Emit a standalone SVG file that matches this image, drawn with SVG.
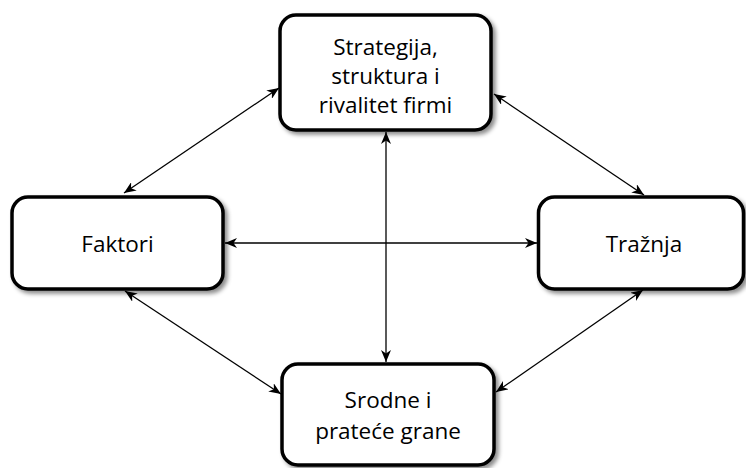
<svg xmlns="http://www.w3.org/2000/svg" width="746" height="468" viewBox="0 0 746 468">
<style>
.box{fill:#fff;stroke:#000;stroke-width:3.5;filter:url(#sh)}
.t{font-family:"Open Sans","Liberation Sans",sans-serif;font-size:22.5px;fill:#000;text-anchor:middle}
.c{stroke:#000;stroke-width:1.3;fill:none;marker-start:url(#ah);marker-end:url(#ah)}
</style>
<defs>
<filter id="sh" x="-10%" y="-10%" width="130%" height="130%">
<feDropShadow dx="3" dy="3" stdDeviation="2" flood-color="#000" flood-opacity="0.45"/>
</filter>
<marker id="ah" viewBox="0 0 12 10" refX="12" refY="5" markerWidth="12" markerHeight="10" markerUnits="userSpaceOnUse" orient="auto-start-reverse">
<path d="M0,0 L12,5 L0,10 L3.5,5 z" fill="#000"/>
</marker>
</defs>
<rect width="746" height="468" fill="#fff"/>
<g id="connectors">
<line class="c" x1="124" y1="193" x2="279" y2="88"/>
<line class="c" x1="494" y1="94" x2="644" y2="195"/>
<line class="c" x1="125" y1="291" x2="281" y2="394"/>
<line class="c" x1="643" y1="290" x2="496" y2="392"/>
<line class="c" x1="225" y1="243" x2="537" y2="243"/>
<line class="c" x1="386" y1="132" x2="386" y2="362"/>
</g>
<g id="strategija">
<rect class="box" x="280" y="15" width="211" height="115" rx="16"/>
<text class="t" x="385.5" y="55">Strategija,</text>
<text class="t" x="385.5" y="84">struktura i</text>
<text class="t" x="385.5" y="113">rivalitet firmi</text>
</g>
<g id="faktori">
<rect class="box" x="12" y="197" width="211" height="92" rx="16"/>
<text class="t" x="117.5" y="252">Faktori</text>
</g>
<g id="traznja">
<rect class="box" x="538.5" y="197" width="205" height="92" rx="16"/>
<text class="t" x="644" y="252">Tražnja</text>
</g>
<g id="srodne">
<rect class="box" x="282" y="364" width="212" height="101" rx="16"/>
<text class="t" x="388" y="408">Srodne i</text>
<text class="t" x="388" y="439">prateće grane</text>
</g>
</svg>
